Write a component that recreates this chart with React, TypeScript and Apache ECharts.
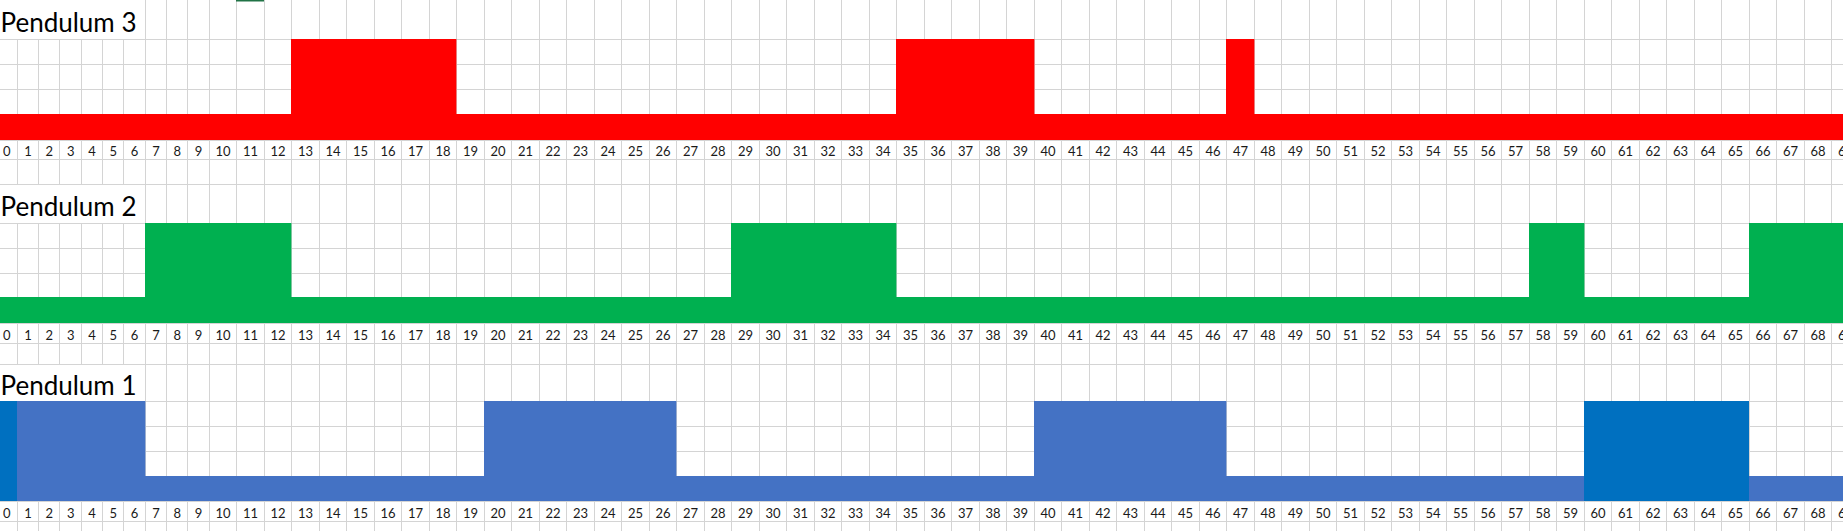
import React, { useEffect, useRef } from "react";
import * as echarts from "echarts";

// ---------- data ----------
const tickLabels = [
  "0", "1", "2", "3", "4", "5", "6", "7", "8", "9",
  "10", "11", "12", "13", "14", "15", "16", "17", "18", "19",
  "20", "21", "22", "23", "24", "25", "26", "27", "28", "29",
  "30", "31", "32", "33", "34", "35", "36", "37", "38", "39",
  "40", "41", "42", "43", "44", "45", "46", "47", "48", "49",
  "50", "51", "52", "53", "54", "55", "56", "57", "58", "59",
  "60", "61", "62", "63", "64", "65", "66", "67", "68", "69",
];

const titles = ["Pendulum 3", "Pendulum 2", "Pendulum 1"];

// number of filled rows per column (1 = base only, 4 = full block)
const pendulum3 = [
  1, 1, 1, 1, 1, 1, 1, 1, 1, 1, 1, 1, 1, 4, 4, 4, 4, 4, 4, 1,
  1, 1, 1, 1, 1, 1, 1, 1, 1, 1, 1, 1, 1, 1, 1, 4, 4, 4, 4, 4,
  1, 1, 1, 1, 1, 1, 1, 4, 1, 1, 1, 1, 1, 1, 1, 1, 1, 1, 1, 1,
  1, 1, 1, 1, 1, 1, 1, 1, 1, 1,
];
const pendulum2 = [
  1, 1, 1, 1, 1, 1, 1, 4, 4, 4, 4, 4, 4, 1, 1, 1, 1, 1, 1, 1,
  1, 1, 1, 1, 1, 1, 1, 1, 1, 4, 4, 4, 4, 4, 4, 1, 1, 1, 1, 1,
  1, 1, 1, 1, 1, 1, 1, 1, 1, 1, 1, 1, 1, 1, 1, 1, 1, 1, 4, 4,
  1, 1, 1, 1, 1, 1, 4, 4, 4, 4,
];
const pendulum1 = [
  4, 4, 4, 4, 4, 4, 4, 1, 1, 1, 1, 1, 1, 1, 1, 1, 1, 1, 1, 1,
  4, 4, 4, 4, 4, 4, 4, 1, 1, 1, 1, 1, 1, 1, 1, 1, 1, 1, 1, 1,
  4, 4, 4, 4, 4, 4, 4, 1, 1, 1, 1, 1, 1, 1, 1, 1, 1, 1, 1, 1,
  4, 4, 4, 4, 4, 4, 1, 1, 1, 1,
];
// columns of pendulum 1 that are filled with the darker blue
const pendulum1Highlight = [0, 60, 61, 62, 63, 64, 65];

// ---------- layout (sheet geometry) ----------
const SHEET_W = 1843;
const SHEET_H = 531;
const FIRST_COL_X = -4;
const NARROW_COL = 21.33;
const WIDE_COL = 27.5;
const colEdges: number[] = [];
for (let c = 0; c <= 72; c++) {
  colEdges.push(c <= 10 ? FIRST_COL_X + c * NARROW_COL : FIRST_COL_X + 10 * NARROW_COL + (c - 10) * WIDE_COL);
}
const rowEdges = [
  0, 39.3, 64.3, 89.3, 114, 140, 159.3,
  184, 223.3, 248.3, 273.3, 297.7, 323.3, 343.3,
  364.3, 401.7, 426.3, 451.7, 476, 501, 521, 546,
];
const blocks = [
  { title: 0, values: pendulum3, color: "#FF0000", titleRow: 0, baseRow: 4, labelRow: 5 },
  { title: 1, values: pendulum2, color: "#00B050", titleRow: 7, baseRow: 11, labelRow: 12 },
  { title: 2, values: pendulum1, color: "#4472C4", titleRow: 14, baseRow: 18, labelRow: 19 },
];
const HIGHLIGHT_COLOR = "#0070C0";
const GRID_COLOR = "#D4D4D4";
const TEXT_FONT = "Lato, 'Noto Sans', sans-serif";
const titleRows = blocks.map((b) => b.titleRow);
const OVERFLOW_COLS = [1, 2, 3, 4, 5, 6];

function snap(v: number) {
  return Math.floor(v) + 0.5;
}

export default function App() {
  const ref = useRef<HTMLDivElement>(null);

  useEffect(() => {
    if (!ref.current) return;
    document.body.style.margin = "0";
    const chart = echarts.init(ref.current, undefined, { renderer: "svg" });

    const sheetSeries = {
      type: "custom",
      name: "sheet",
      silent: true,
      clip: true,
      z: 1,
      data: [[0, 0]],
      renderItem: (_params: any, api: any) => {
        const children: any[] = [];
        const top = api.coord([0, rowEdges[0]])[1];
        const bottom = api.coord([0, rowEdges[rowEdges.length - 1]])[1];
        // vertical lines
        for (let c = 0; c < colEdges.length; c++) {
          const x = snap(api.coord([colEdges[c], 0])[0]);
          if (!OVERFLOW_COLS.includes(c)) {
            children.push({ type: "line", shape: { x1: x, y1: top, x2: x, y2: bottom }, style: { stroke: GRID_COLOR, lineWidth: 1 } });
          } else {
            for (let r = 0; r < rowEdges.length - 1; r++) {
              if (titleRows.includes(r)) continue;
              const y1 = api.coord([0, rowEdges[r]])[1];
              const y2 = api.coord([0, rowEdges[r + 1]])[1];
              children.push({ type: "line", shape: { x1: x, y1, x2: x, y2 }, style: { stroke: GRID_COLOR, lineWidth: 1 } });
            }
          }
        }
        // horizontal lines
        const left = api.coord([colEdges[0], 0])[0];
        const right = api.coord([colEdges[colEdges.length - 1], 0])[0];
        for (let r = 1; r < rowEdges.length; r++) {
          const y = snap(api.coord([0, rowEdges[r]])[1]);
          children.push({ type: "line", shape: { x1: left, y1: y, x2: right, y2: y }, style: { stroke: GRID_COLOR, lineWidth: 1 } });
        }
        // active-cell marker at the top
        const mx1 = api.coord([colEdges[11], 0])[0];
        const mx2 = api.coord([colEdges[12], 0])[0];
        children.push({ type: "rect", shape: { x: Math.floor(mx1), y: top, width: Math.round(mx2 - mx1) + 1, height: 1.5 }, style: { fill: "#217346" } });
        return { type: "group", children };
      },
    };

    const fillSeries = blocks.map((b, bi) => ({
      type: "custom",
      name: titles[b.title],
      silent: true,
      clip: true,
      z: 2,
      data: b.values.map((v, i) => [i, v]),
      renderItem: (_params: any, api: any) => {
        const c = api.value(0);
        const level = api.value(1);
        const p0 = api.coord([colEdges[c], rowEdges[b.baseRow + 1 - level]]);
        const p1 = api.coord([colEdges[c + 1], rowEdges[b.baseRow + 1]]);
        const x0 = Math.floor(p0[0]);
        const x1 = Math.floor(p1[0]);
        const y0 = Math.floor(p0[1]);
        const y1 = Math.floor(p1[1]);
        const dark = bi === 2 && pendulum1Highlight.includes(c);
        return {
          type: "rect",
          shape: { x: x0, y: y0, width: x1 - x0 + (dark ? 0 : 0.4), height: y1 - y0 },
          style: { fill: dark ? HIGHLIGHT_COLOR : b.color },
          z2: dark ? 2 : 1,
        };
      },
    }));

    const labelSeries = {
      type: "custom",
      name: "labels",
      silent: true,
      clip: false,
      z: 3,
      data: tickLabels.map((_t, i) => [i]),
      renderItem: (_params: any, api: any) => {
        const c = api.value(0);
        const cx = (colEdges[c] + colEdges[c + 1]) / 2;
        const children = blocks.map((b) => {
          const cy = (rowEdges[b.labelRow] + rowEdges[b.labelRow + 1]) / 2;
          const p = api.coord([cx, cy]);
          return {
            type: "text",
            style: {
              text: tickLabels[c],
              x: p[0],
              y: p[1] + 1.5,
              fill: "#1a1a1a",
              fontSize: 13,
              fontFamily: TEXT_FONT,
              align: "center",
              verticalAlign: "middle",
              textAlign: "center",
              textVerticalAlign: "middle",
            },
          };
        });
        return { type: "group", children };
      },
    };

    const titleSeries = {
      type: "custom",
      name: "titles",
      silent: true,
      clip: false,
      z: 3,
      data: blocks.map((b) => [b.title]),
      renderItem: (params: any, api: any) => {
        const b = blocks[params.dataIndex];
        const p = api.coord([0, rowEdges[b.titleRow + 1]]);
        return {
          type: "text",
          style: {
            text: titles[b.title],
            x: p[0] + 0.5,
            y: p[1] - 17,
            fill: "#000000",
            fontSize: 26,
            fontFamily: TEXT_FONT,
            align: "left",
            verticalAlign: "middle",
            textAlign: "left",
            textVerticalAlign: "middle",
          },
        };
      },
    };

    chart.setOption({
      animation: false,
      backgroundColor: "#ffffff",
      grid: { left: 0, right: 0, top: 0, bottom: 0, containLabel: false },
      xAxis: { type: "value", min: 0, max: SHEET_W, show: false },
      yAxis: { type: "value", min: 0, max: SHEET_H, inverse: true, show: false },
      tooltip: { show: false },
      series: [sheetSeries, ...fillSeries, labelSeries, titleSeries],
    });

    return () => chart.dispose();
  }, []);

  return <div ref={ref} style={{ width: SHEET_W, height: SHEET_H, background: "#fff" }} />;
}
